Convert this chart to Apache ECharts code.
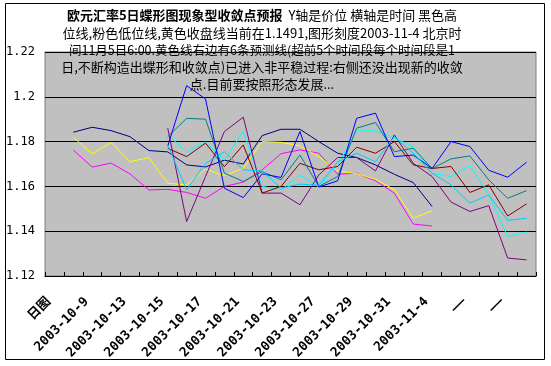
<!DOCTYPE html>
<html><head><meta charset="utf-8">
<script src="https://cdn.jsdelivr.net/npm/echarts@6.0.0/dist/echarts.min.js"></script>
<style>html,body{margin:0;padding:0;background:#fff}#c{width:551px;height:366px}</style>
</head><body><div id="c"></div>
<script>
// categories (index 0 = 日图, 1..20 history, 21..25 forecast periods)
var categories = ['日图','2003-10-8','2003-10-9','2003-10-10','2003-10-13','2003-10-14','2003-10-15','2003-10-16','2003-10-17','2003-10-20','2003-10-21','2003-10-22','2003-10-23','2003-10-24','2003-10-27','2003-10-28','2003-10-29','2003-10-30','2003-10-31','2003-11-3','2003-11-4','——','——','——','——','——'];
var yTicks = [1.12, 1.14, 1.16, 1.18, 1.2, 1.22];
// history series start at category 1
var highLine  = [1.1842,1.1864,1.1849,1.1822,1.1760,1.1754,1.1696,1.1687,1.1717,1.1700,1.1827,1.1855,1.1855,1.1800,1.1748,1.1729,1.1696,1.1654,1.1617,1.1510];
var lowLine   = [1.1762,1.1686,1.1704,1.1656,1.1584,1.1587,1.1573,1.1547,1.1600,1.1619,1.1674,1.1746,1.1763,1.1748,1.1654,1.1659,1.1625,1.1570,1.1432,1.1423];
var closeLine = [1.1820,1.1745,1.1797,1.1710,1.1729,1.1614,1.1607,1.1677,1.1648,1.1681,1.1800,1.1797,1.1781,1.1733,1.1669,1.1657,1.1632,1.1585,1.1458,1.1491];
// forecast series start at category 6
var fcCyan    = [1.1830,1.1755,1.1797,1.1718,1.1845,1.1600,1.1585,1.1651,1.1597,1.1696,1.1848,1.1848,1.1815,1.1778,1.1659,1.1644,1.1693,1.1562,1.1376,1.1396];
var fcPurple  = [1.1860,1.1443,1.1644,1.1845,1.1909,1.1570,1.1570,1.1518,1.1651,1.1729,1.1729,1.1669,1.1830,1.1703,1.1644,1.1530,1.1488,1.1514,1.1280,1.1272];
var fcMaroon  = [1.1770,1.1733,1.1793,1.1688,1.1785,1.1570,1.1600,1.1703,1.1674,1.1689,1.1775,1.1748,1.1800,1.1696,1.1680,1.1689,1.1573,1.1607,1.1468,1.1522];
var fcTeal    = [1.1822,1.1904,1.1900,1.1659,1.1622,1.1666,1.1629,1.1740,1.1600,1.1644,1.1860,1.1885,1.1755,1.1770,1.1680,1.1723,1.1736,1.1629,1.1547,1.1581];
var fcBlue    = [1.1780,1.2050,1.1990,1.1592,1.1550,1.1656,1.1640,1.1845,1.1597,1.1625,1.1904,1.1927,1.1733,1.1740,1.1680,1.1800,1.1778,1.1672,1.1641,1.1708];
var fcSky     = [1.1785,1.1585,1.1703,1.1755,1.1674,1.1669,1.1592,1.1610,1.1605,1.1710,1.1748,1.1710,1.1822,1.1748,1.1659,1.1607,1.1525,1.1562,1.1448,1.1458];

function pad(arr, start){
  var out = [];
  for (var i = 0; i < categories.length; i++) {
    var k = i - start;
    out.push(k >= 0 && k < arr.length ? arr[k] : null);
  }
  return out;
}
function line(name, arr, start, color){
  return {name:name, type:'line', data:pad(arr,start), showSymbol:false, symbol:'none',
    lineStyle:{color:color, width:1}, itemStyle:{color:color}, connectNulls:false, z: 3};
}
var chart = echarts.init(document.getElementById('c'), null, {renderer:'canvas'});
var cjk = '"Noto Sans CJK SC", sans-serif';
chart.setOption({
  animation:false,
  backgroundColor:'#ffffff',
  grid:{left:45, top:52, width:491, height:224, show:true, backgroundColor:'#C0C0C0', borderColor:'#808080', borderWidth:1},
  xAxis:{type:'category', data:categories, boundaryGap:true,
    axisLine:{show:true, lineStyle:{color:'#000', width:1}},
    axisTick:{show:true, inside:true, length:4, interval:0, lineStyle:{color:'#000'}},
    axisLabel:{interval:1, rotate:45, margin:18, padding:[0,8,0,0], color:'#000', fontWeight:'bold', fontSize:13, fontFamily:'"DejaVu Sans Mono", "Noto Sans CJK SC", monospace'},
    splitLine:{show:false}},
  yAxis:{type:'value', min:1.12, max:1.22, interval:0.02,
    axisLine:{show:false}, axisTick:{show:false},
    axisLabel:{margin:10, color:'#000', fontSize:12, fontFamily:'"DejaVu Sans Mono", monospace',
      formatter:function(v){ var r = Math.round(v*100)/100; for (var i=0;i<yTicks.length;i++){ if (Math.abs(yTicks[i]-r)<1e-6) return String(yTicks[i]); } return ''; }},
    splitLine:{show:true, lineStyle:{color:'#000', width:1}}},
  graphic:[
    {type:'rect', shape:{x:5.5, y:3.5, width:539, height:356}, style:{fill:null, stroke:'#000', lineWidth:1}, z:-1, silent:true},
    {type:'text', x:262, y:15, z:100, style:{text:'{b|欧元汇率5日蝶形图现象型收敛点预报}  Y轴是价位 横轴是时间 黑色高', align:'center', verticalAlign:'middle', font:'13px '+cjk, fill:'#000',
      rich:{b:{fontWeight:'bold', fontSize:13, fontFamily:'"Noto Sans CJK SC"', fill:'#000'}}}},
    {type:'text', x:262, y:33, z:100, style:{text:'位线,粉色低位线,黄色收盘线当前在1.1491,图形刻度2003-11-4 北京时', align:'center', verticalAlign:'middle', font:'13px '+cjk, fill:'#000'}},
    {type:'text', x:262, y:50, z:100, style:{text:'间11月5日6:00.黄色线右边有6条预测线(超前5个时间段每个时间段是1', align:'center', verticalAlign:'middle', font:'12.5px '+cjk, fill:'#000'}},
    {type:'text', x:262, y:67, z:100, style:{text:'日,不断构造出蝶形和收敛点)已进入非平稳过程:右侧还没出现新的收敛', align:'center', verticalAlign:'middle', font:'13px '+cjk, fill:'#000'}},
    {type:'text', x:262, y:84, z:100, style:{text:'点.目前要按照形态发展...', align:'center', verticalAlign:'middle', font:'13px '+cjk, fill:'#000'}}
  ],
  series:[
    line('高位线', highLine, 1, '#000080'),
    line('低位线', lowLine, 1, '#FF00FF'),
    line('收盘线', closeLine, 1, '#FFFF00'),
    line('预测1', fcCyan, 6, '#00FFFF'),
    line('预测2', fcPurple, 6, '#800080'),
    line('预测3', fcMaroon, 6, '#800000'),
    line('预测4', fcTeal, 6, '#008080'),
    line('预测5', fcBlue, 6, '#0000FF'),
    line('预测6', fcSky, 6, '#00CCFF')
  ]
});
</script></body></html>
